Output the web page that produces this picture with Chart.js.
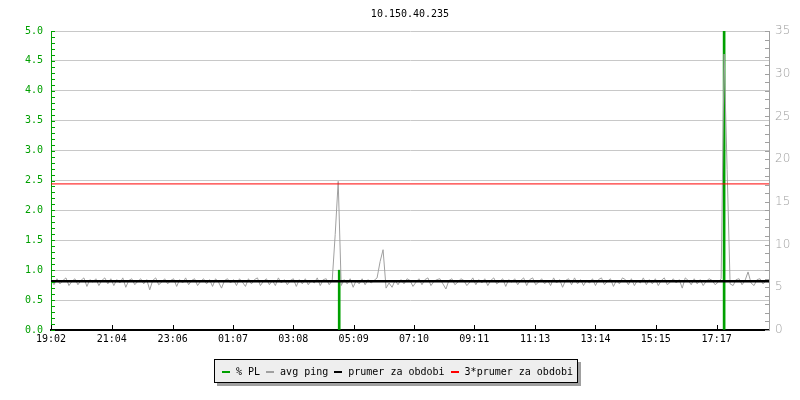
<!DOCTYPE html>
<html>
<head>
<meta charset="utf-8">
<script src="https://cdn.jsdelivr.net/npm/chart.js@4/dist/chart.umd.min.js"></script>
<style>
  body { margin: 0; background: #fff; }
  #wrap { position: relative; width: 800px; height: 400px; }
  #title { position: absolute; left: 51px; width: 718px; top: 8px; text-align: center;
           font: 10px "DejaVu Sans Mono", monospace; color: #000; }
  #legend { position: absolute; left: 214px; top: 359px; width: 364px; height: 24px;
            background: #eeeeee; border: 1px solid #000; box-shadow: 3px 3px 0 #a0a0a0;
            font: 10px "DejaVu Sans Mono", monospace; color: #000; box-sizing: border-box;
            padding-left: 7px; line-height: 23px; white-space: nowrap; }
  .sw { display: inline-block; width: 8px; height: 2px; vertical-align: middle; margin-right: 6px; }
  .it { margin-right: 6px; }
</style>
</head>
<body>
<div id="wrap">
  <canvas id="chart" width="800" height="400"></canvas>
  <div id="title">10.150.40.235</div>
  <div id="legend"></div>
</div>
<script>
// time axis in minutes from 19:02, one ping sample every 6 min
var stepMinutes = 6;
var tickMinutes = [0, 122, 244, 365, 486, 607, 728, 849, 971, 1092, 1213, 1335];
var tickLabels = ["19:02", "21:04", "23:06", "01:07", "03:08", "05:09", "07:10", "09:11", "11:13", "13:14", "15:15", "17:17"];

// avg ping [ms], right axis
var pingValues = [
  5.9,5.3,6.0,5.4,5.8,6.1,5.2,5.7,6.0,5.3,5.8,6.1,5.1,5.9,5.6,6.0,5.2,5.8,6.1,5.4,
  6.0,5.2,5.9,5.5,6.1,5.0,5.8,6.0,5.3,5.7,6.0,5.4,5.9,4.7,5.8,6.1,5.3,5.6,6.0,5.4,
  5.8,6.0,5.1,5.9,5.5,6.1,5.3,5.8,6.0,5.2,5.7,6.0,5.4,5.9,5.1,6.0,5.6,4.9,5.8,6.0,
  5.5,5.9,5.2,6.0,5.6,5.1,6.0,5.4,5.9,6.1,5.2,5.7,6.0,5.3,5.8,5.2,6.1,5.5,5.9,5.3,
  5.8,6.0,5.1,5.9,5.4,6.0,5.3,5.8,5.5,6.1,5.2,5.9,6.0,5.3,5.8,11.2,17.4,5.2,5.9,5.4,
  6.0,5.0,5.8,5.4,6.0,5.3,5.9,5.5,5.8,6.1,8.0,9.4,4.9,5.5,5.0,5.8,5.3,5.9,5.4,6.0,
  5.8,5.1,5.6,6.0,5.3,5.9,6.1,5.2,5.7,5.9,6.0,5.4,4.8,5.8,6.0,5.3,5.6,6.0,5.8,5.2,
  5.6,6.1,5.3,5.9,5.5,6.0,5.2,5.8,6.1,5.4,5.7,6.0,5.1,5.9,5.6,6.0,5.3,5.8,6.1,5.2,
  5.9,6.1,5.3,5.6,6.0,5.4,5.8,5.2,6.1,5.5,5.9,5.0,5.8,6.0,5.3,6.1,5.4,5.9,5.2,5.8,
  5.5,6.0,5.2,5.9,6.1,5.3,5.7,6.0,5.1,5.8,5.4,6.1,5.9,5.3,6.0,5.2,5.8,5.5,6.1,5.3,
  5.9,5.4,6.0,5.2,5.8,6.1,5.3,5.6,6.0,5.5,5.9,4.9,6.1,5.8,5.3,6.0,5.4,5.9,5.2,5.7,
  6.0,5.8,5.3,5.6,6.0,32.3,18.8,5.4,5.2,5.9,6.0,5.3,5.8,6.8,5.5,5.2,5.9,6.0,5.4,5.8,
  5.6
];

// packet loss [%], left axis (only non zero samples)
var plMinutes = [578, 1350];
var plValues = [1.0, 100];

var prumer = 5.7; // mean ping over the period [ms]

var green = "#00a000";
var gray = "#a0a0a0";

var pingData = pingValues.map(function(v, i) { return {x: i * stepMinutes, y: v}; });
var plData = plMinutes.map(function(m, i) { return {x: m, y: plValues[i]}; });

function isMajor(v, step) {
  return Math.abs(v / step - Math.round(v / step)) < 1e-6;
}

// rrdtool style ticks pointing into the plot
var inwardTicks = {
  id: "inwardTicks",
  afterDatasetsDraw: function(chart) {
    var ctx = chart.ctx, a = chart.chartArea;
    var sy = chart.scales.y, sy1 = chart.scales.y1, sx = chart.scales.x;
    ctx.save();
    ctx.lineWidth = 1;
    ctx.strokeStyle = green;
    sy.ticks.forEach(function(t) {
      var p = Math.round(sy.getPixelForValue(t.value)) + 0.5;
      ctx.beginPath(); ctx.moveTo(a.left, p); ctx.lineTo(a.left + 4, p); ctx.stroke();
    });
    ctx.strokeStyle = gray;
    sy1.ticks.forEach(function(t) {
      var p = Math.round(sy1.getPixelForValue(t.value)) + 0.5;
      ctx.beginPath(); ctx.moveTo(a.right, p); ctx.lineTo(a.right - 4, p); ctx.stroke();
    });
    ctx.strokeStyle = "#000";
    sx.ticks.forEach(function(t) {
      var p = Math.round(sx.getPixelForValue(t.value)) + 0.5;
      ctx.beginPath(); ctx.moveTo(p, a.bottom); ctx.lineTo(p, a.bottom - 5); ctx.stroke();
    });
    ctx.restore();
  }
};

var monoFont = {family: "'DejaVu Sans Mono', monospace", size: 10};

new Chart(document.getElementById("chart"), {
  data: {
    datasets: [
      { type: "bar", label: "% PL", data: plData, yAxisID: "y", backgroundColor: green,
        barThickness: 2, order: 4 },
      { type: "line", label: "avg ping", data: pingData, yAxisID: "y1", borderColor: gray,
        borderWidth: 1, pointRadius: 0, tension: 0, order: 3 },
      { type: "line", label: "prumer za obdobi", data: [{x: 0, y: prumer}, {x: 1440, y: prumer}],
        yAxisID: "y1", borderColor: "#000", borderWidth: 2.5, pointRadius: 0, order: 2 },
      { type: "line", label: "3*prumer za obdobi", data: [{x: 0, y: 3 * prumer}, {x: 1440, y: 3 * prumer}],
        yAxisID: "y1", borderColor: "#ff0000", borderWidth: 1, pointRadius: 0, order: 1 }
    ]
  },
  options: {
    responsive: false,
    animation: false,
    layout: { padding: { top: 31, left: 0, right: 0, bottom: 0 } },
    plugins: { legend: { display: false }, tooltip: { enabled: false }, title: { display: false } },
    scales: {
      x: {
        type: "linear", min: 0, max: 1440, offset: false,
        afterFit: function(s) { s.height = 70; },
        afterBuildTicks: function(s) { s.ticks = tickMinutes.map(function(m) { return {value: m}; }); },
        ticks: {
          autoSkip: false, maxRotation: 0, padding: 3, color: "#000", font: monoFont,
          callback: function(v) { var i = tickMinutes.indexOf(v); return i < 0 ? "" : tickLabels[i]; }
        },
        grid: { drawOnChartArea: false, drawTicks: false, offset: false },
        border: { color: "#000", width: 2 }
      },
      y: {
        position: "left", min: 0, max: 5,
        afterFit: function(s) { s.width = 51; },
        ticks: {
          stepSize: 0.1, autoSkip: false, padding: 8, color: green, font: monoFont,
          callback: function(v) { return isMajor(v, 0.5) ? v.toFixed(1) : ""; }
        },
        grid: {
          drawTicks: false,
          color: function(c) { return c.tick && isMajor(c.tick.value, 0.5) ? "#c8c8c8" : "rgba(0,0,0,0)"; }
        },
        border: { color: green, width: 1 }
      },
      y1: {
        position: "right", min: 0, max: 35,
        afterFit: function(s) { s.width = 31; },
        ticks: {
          stepSize: 1, autoSkip: false, padding: 6, color: gray,
          font: {family: "'DejaVu Sans', sans-serif", size: 12, weight: "200"},
          callback: function(v) { return isMajor(v, 5) ? String(v) : ""; }
        },
        grid: { drawOnChartArea: false, drawTicks: false },
        border: { color: gray, width: 1 }
      }
    }
  },
  plugins: [inwardTicks]
});

// legend box under the graph
var legendItems = [
  {label: "% PL", color: green},
  {label: "avg ping", color: gray},
  {label: "prumer za obdobi", color: "#000"},
  {label: "3*prumer za obdobi", color: "#ff0000"}
];
var legend = document.getElementById("legend");
legendItems.forEach(function(it) {
  var sw = document.createElement("span");
  sw.className = "sw";
  sw.style.background = it.color;
  var tx = document.createElement("span");
  tx.className = "it";
  tx.textContent = it.label;
  legend.appendChild(sw);
  legend.appendChild(tx);
});
</script>
</body>
</html>
